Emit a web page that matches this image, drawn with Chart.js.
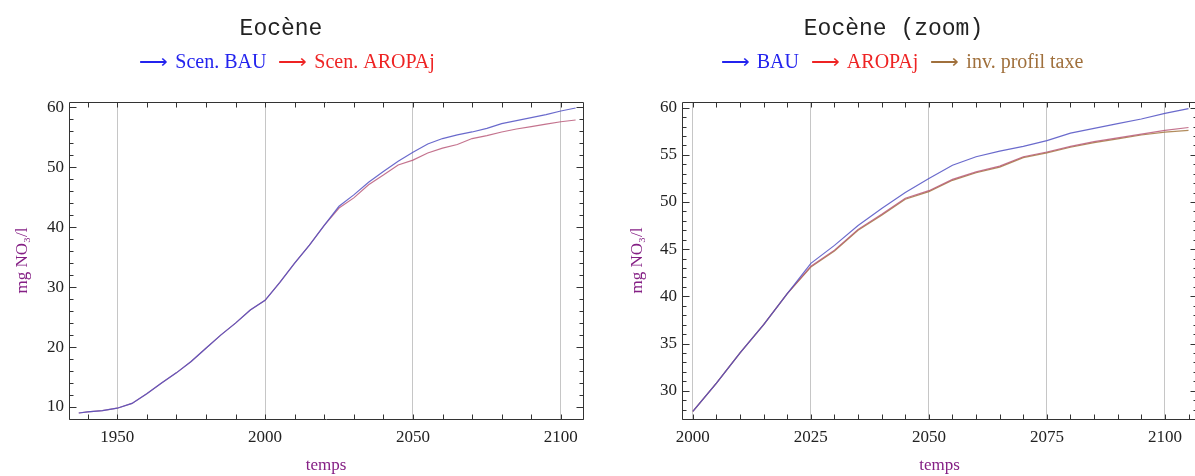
<!DOCTYPE html>
<html>
<head>
<meta charset="utf-8">
<script src="https://cdn.jsdelivr.net/npm/chart.js@4.4.1/dist/chart.umd.min.js"></script>
<style>
  html, body { margin: 0; padding: 0; background: #fff; overflow: hidden; }
  #wrap { position: relative; width: 1195px; height: 476px; overflow: hidden; }
  .panel { position: absolute; top: 0; width: 600px; height: 476px; }
  #left { left: 0; }
  #right { left: 600px; }
</style>
</head>
<body>
<div id="wrap">
  <div class="panel" id="left"><canvas id="chartAll"></canvas></div>
  <div class="panel" id="right"><canvas id="chartZoom"></canvas></div>
</div>
<script>
// nitrate concentration (mg NO3/l) per scenario
const years  = [1937, 1940, 1945, 1950, 1955, 1960, 1965, 1970, 1975, 1980, 1985, 1990, 1995,
                2000, 2005, 2010, 2015, 2020, 2025, 2030, 2035, 2040, 2045, 2050, 2055, 2060,
                2065, 2070, 2075, 2080, 2085, 2090, 2095, 2100, 2105];
const bau    = [9.0, 9.2, 9.4, 9.8, 10.6, 12.2, 14.0, 15.7, 17.6, 19.8, 22.0, 24.0, 26.2,
                27.8, 30.8, 34.0, 37.0, 40.3, 43.5, 45.4, 47.5, 49.3, 51.0, 52.5, 53.9, 54.8,
                55.4, 55.9, 56.5, 57.3, 57.8, 58.3, 58.8, 59.4, 59.9];
const aropaj = [9.0, 9.2, 9.4, 9.8, 10.6, 12.2, 14.0, 15.7, 17.6, 19.8, 22.0, 24.0, 26.2,
                27.8, 30.8, 34.0, 37.0, 40.3, 43.2, 44.9, 47.1, 48.7, 50.4, 51.2, 52.4, 53.2,
                53.8, 54.8, 55.3, 55.9, 56.4, 56.8, 57.2, 57.6, 57.9];
// inverse tax profile, only simulated from 2000
const invYears = [2000, 2005, 2010, 2015, 2020, 2025, 2030, 2035, 2040, 2045, 2050, 2055,
                  2060, 2065, 2070, 2075, 2080, 2085, 2090, 2095, 2100, 2105];
const invTaxe  = [27.8, 30.8, 34.0, 37.0, 40.3, 43.1, 44.8, 47.0, 48.6, 50.3, 51.1, 52.3,
                  53.1, 53.7, 54.7, 55.2, 55.8, 56.3, 56.7, 57.1, 57.4, 57.6];

const allXTicks  = [1950, 2000, 2050, 2100];
const allYTicks  = [10, 20, 30, 40, 50, 60];
const zoomXTicks = [2000, 2025, 2050, 2075, 2100];
const zoomYTicks = [30, 35, 40, 45, 50, 55, 60];

const serif = '"Liberation Serif", "Times New Roman", serif';
const purple = '#852085';

function pts(xs, ys, from) {
  return xs.map((x, i) => ({ x: x, y: ys[i] })).filter(p => p.x >= (from || 0));
}

// frame with inward ticks, title and arrow legend drawn on the canvas
const framePlugin = {
  id: 'frame',
  afterDraw(chart, args, o) {
    const { ctx, chartArea: a, scales: { x, y } } = chart;
    const L = Math.round(a.left) + 0.5, R = Math.round(a.right) + 0.5;
    const T = Math.round(a.top) + 0.5, B = Math.round(a.bottom) + 0.5;
    ctx.save();
    ctx.strokeStyle = '#333';
    ctx.lineWidth = 1;
    ctx.beginPath();
    ctx.rect(L, T, R - L, B - T);
    for (let v = Math.ceil(x.min / o.xStep) * o.xStep; v <= x.max; v += o.xStep) {
      const px = Math.round(x.getPixelForValue(v)) + 0.5;
      ctx.moveTo(px, B); ctx.lineTo(px, B - 5);
      ctx.moveTo(px, T); ctx.lineTo(px, T + 5);
    }
    for (let v = Math.ceil(y.min / o.yStep) * o.yStep; v <= y.max + 1e-9; v += o.yStep) {
      const py = Math.round(y.getPixelForValue(v)) + 0.5;
      const len = Math.abs(v % o.yMajor) < 1e-6 ? 7 : 4;
      ctx.moveTo(L, py); ctx.lineTo(L + len, py);
      ctx.moveTo(R, py); ctx.lineTo(R - len, py);
    }
    ctx.stroke();

    ctx.fillStyle = '#222';
    ctx.font = '23px "Liberation Mono", "Courier New", monospace';
    ctx.textAlign = 'center';
    ctx.textBaseline = 'alphabetic';
    ctx.fillText(o.title, o.titleX, 35);

    ctx.font = '20px ' + serif;
    ctx.textAlign = 'left';
    const arrow = '\u27F6', sp = 7, gap = 12;
    const aw = ctx.measureText(arrow).width;
    const widths = o.items.map(it => aw + sp + ctx.measureText(it.text).width);
    let cx = o.legendX - (widths.reduce((s, w) => s + w, 0) + gap * (widths.length - 1)) / 2;
    o.items.forEach((it, i) => {
      ctx.fillStyle = it.color;
      ctx.fillText(arrow, cx, 68);
      ctx.fillText(it.text, cx + aw + sp, 68);
      cx += widths[i] + gap;
    });
    ctx.restore();
  }
};

function makeChart(id, cfg) {
  return new Chart(document.getElementById(id), {
    type: 'line',
    data: { datasets: cfg.datasets },
    options: {
      responsive: true,
      maintainAspectRatio: false,
      animation: false,
      layout: { padding: { top: 102, right: cfg.padRight, bottom: 0, left: 0 } },
      elements: { point: { radius: 0 }, line: { tension: 0, borderWidth: 1.2 } },
      plugins: {
        legend: { display: false },
        tooltip: { enabled: false },
        frame: cfg.frame
      },
      scales: {
        x: {
          type: 'linear',
          min: cfg.xMin, max: cfg.xMax,
          afterBuildTicks: s => { s.ticks = cfg.xTicks.map(v => ({ value: v })); },
          afterFit: s => { s.height = 57; },
          grid: { color: '#c6c6c6', lineWidth: 1, drawTicks: false },
          border: { display: false },
          ticks: { padding: 8, color: '#222', font: { family: serif, size: 17 }, maxRotation: 0, callback: v => String(v) },
          title: { display: true, text: 'temps', color: purple, font: { family: serif, size: 17 }, padding: { top: 0, bottom: 0 } }
        },
        y: {
          min: cfg.yMin, max: cfg.yMax,
          afterBuildTicks: s => { s.ticks = cfg.yTicks.map(v => ({ value: v })); },
          afterFit: s => { s.width = cfg.yWidth; },
          grid: { display: false, drawTicks: false },
          border: { display: false },
          ticks: { padding: 5, color: '#222', font: { family: serif, size: 17 } },
          title: { display: true, text: 'mg NO\u2083/l', color: purple, font: { family: serif, size: 17 }, padding: { top: cfg.yTitlePad, bottom: 0 } }
        }
      }
    },
    plugins: [framePlugin]
  });
}

const blueLine = 'rgba(80, 80, 195, 0.85)';
const redLine = 'rgba(180, 75, 110, 0.78)';
const brownLine = 'rgba(165, 120, 65, 0.85)';

makeChart('chartAll', {
  datasets: [
    { label: 'Scen. BAU', data: pts(years, bau), borderColor: blueLine },
    { label: 'Scen. AROPAj', data: pts(years, aropaj), borderColor: redLine }
  ],
  xMin: 1933.7, xMax: 2107.5, xTicks: allXTicks,
  yMin: 8, yMax: 60.9, yTicks: allYTicks,
  yWidth: 69, yTitlePad: 12, padRight: 17,
  frame: {
    xStep: 10, yStep: 2, yMajor: 10,
    title: 'Eocène', titleX: 281, legendX: 287,
    items: [
      { text: 'Scen. BAU', color: '#2323ee' },
      { text: 'Scen. AROPAj', color: '#ee2323' }
    ]
  }
});

makeChart('chartZoom', {
  datasets: [
    { label: 'BAU', data: pts(years, bau, 2000), borderColor: blueLine },
    { label: 'AROPAj', data: pts(years, aropaj, 2000), borderColor: redLine },
    { label: 'inv. profil taxe', data: pts(invYears, invTaxe), borderColor: brownLine }
  ],
  xMin: 1997.7, xMax: 2106.8, xTicks: zoomXTicks,
  yMin: 27.0, yMax: 60.6, yTicks: zoomYTicks,
  yWidth: 82, yTitlePad: 27, padRight: 3,
  frame: {
    xStep: 5, yStep: 1, yMajor: 5,
    title: 'Eocène (zoom)', titleX: 293.5, legendX: 302,
    items: [
      { text: 'BAU', color: '#2323ee' },
      { text: 'AROPAj', color: '#ee2323' },
      { text: 'inv. profil taxe', color: '#a0703c' }
    ]
  }
});
</script>
</body>
</html>
